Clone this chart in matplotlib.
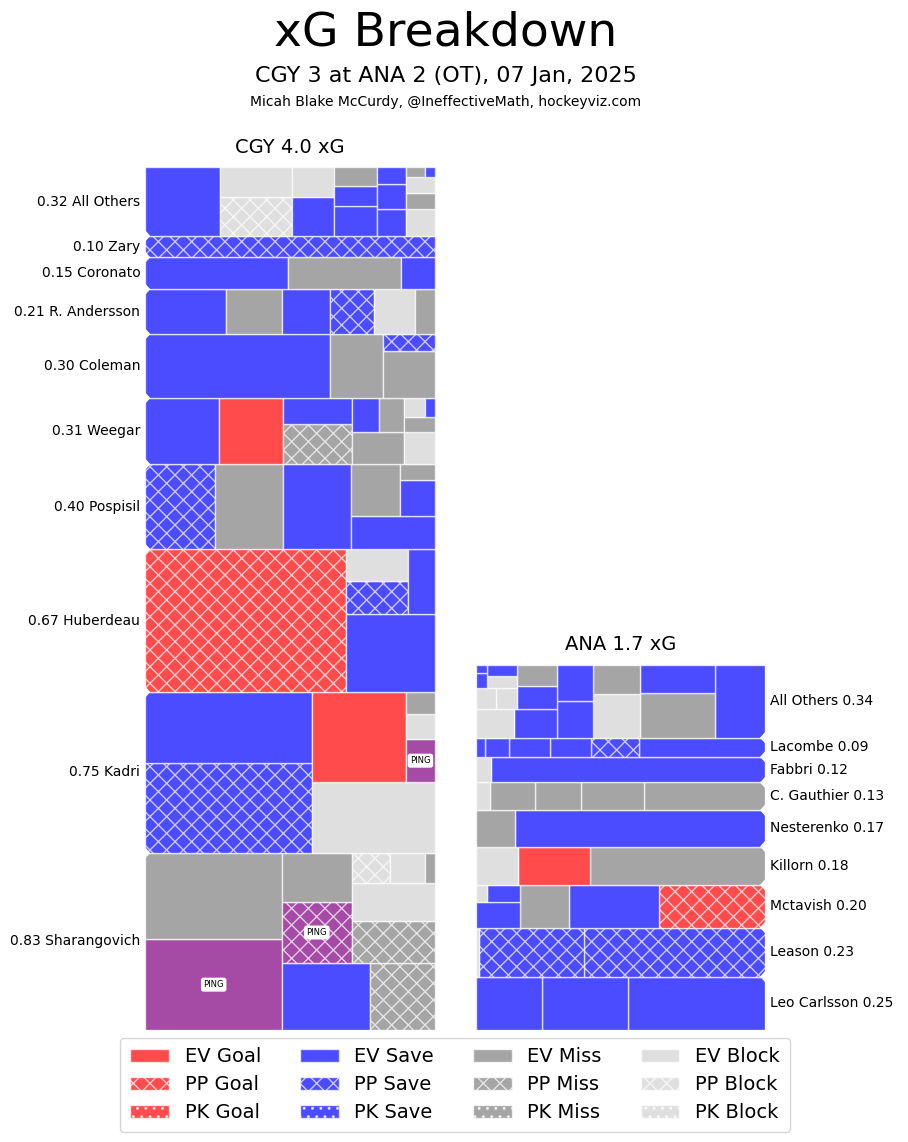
import matplotlib
matplotlib.use('Agg')
import matplotlib.pyplot as plt
from matplotlib.patches import Rectangle, Patch, Polygon

# shot xG per player, (value, kind); rows listed bottom -> top
cgy_players = ['Sharangovich', 'Kadri', 'Huberdeau', 'Pospisil', 'Weegar',
               'Coleman', 'R. Andersson', 'Coronato', 'Zary', 'All Others']
cgy_shots = [
    [(0.2010, 'EV Ping'), (0.1915, 'EV Miss'), (0.0955, 'EV Save'), (0.0707, 'PP Miss'),
     (0.0682, 'PP Ping'), (0.0557, 'EV Miss'), (0.0555, 'PP Miss'), (0.0515, 'EV Block'),
     (0.0186, 'PP Block'), (0.0175, 'EV Block'), (0.0045, 'EV Miss')],
    [(0.2438, 'PP Save'), (0.1909, 'EV Save'), (0.1409, 'EV Block'), (0.1372, 'EV Goal'),
     (0.0195, 'EV Ping'), (0.0118, 'EV Block'), (0.0099, 'EV Miss')],
    [(0.4642, 'PP Goal'), (0.1118, 'EV Save'), (0.0336, 'PP Save'), (0.0319, 'EV Block'),
     (0.0281, 'EV Save')],
    [(0.0967, 'PP Save'), (0.0939, 'EV Miss'), (0.0929, 'EV Save'), (0.0446, 'EV Save'),
     (0.0418, 'EV Miss'), (0.0204, 'EV Save'), (0.0088, 'EV Miss')],
    [(0.0789, 'EV Save'), (0.0688, 'EV Goal'), (0.0451, 'PP Miss'), (0.0287, 'EV Save'),
     (0.0269, 'EV Miss'), (0.0159, 'EV Block'), (0.0148, 'EV Save'), (0.0141, 'EV Miss'),
     (0.0073, 'EV Miss'), (0.0064, 'EV Block'), (0.0029, 'EV Save')],
    [(0.1913, 'EV Save'), (0.0552, 'EV Miss'), (0.0392, 'EV Miss'), (0.0143, 'PP Save')],
    [(0.0585, 'EV Save'), (0.0404, 'EV Miss'), (0.0354, 'EV Save'), (0.0314, 'PP Save'),
     (0.0304, 'EV Block'), (0.0139, 'EV Miss')],
    [(0.0740, 'EV Save'), (0.0587, 'EV Miss'), (0.0173, 'EV Save')],
    [(0.1000, 'PP Save')],
    [(0.0830, 'EV Save'), (0.0449, 'PP Block'), (0.0348, 'EV Block'), (0.0267, 'EV Save'),
     (0.0209, 'EV Block'), (0.0207, 'EV Save'), (0.0139, 'EV Save'), (0.0130, 'EV Miss'),
     (0.0126, 'EV Save'), (0.0122, 'EV Block'), (0.0121, 'EV Save'), (0.0077, 'EV Save'),
     (0.0075, 'EV Miss'), (0.0074, 'EV Block'), (0.0029, 'EV Miss'), (0.0014, 'EV Save')],
]

ana_players = ['Leo Carlsson', 'Leason', 'Mctavish', 'Killorn', 'Nesterenko',
               'C. Gauthier', 'Fabbri', 'Lacombe', 'All Others']
ana_shots = [
    [(0.1184, 'EV Save'), (0.0745, 'EV Save'), (0.0572, 'EV Save')],
    [(0.1440, 'PP Save'), (0.0837, 'PP Save'), (0.0024, 'EV Block')],
    [(0.0732, 'PP Goal'), (0.0623, 'EV Save'), (0.0342, 'EV Miss'), (0.0181, 'EV Save'),
     (0.0091, 'EV Save'), (0.0031, 'EV Block')],
    [(0.1087, 'EV Miss'), (0.0449, 'EV Goal'), (0.0264, 'EV Block')],
    [(0.1470, 'EV Save'), (0.0230, 'EV Miss')],
    [(0.0544, 'EV Miss'), (0.0284, 'EV Miss'), (0.0207, 'EV Miss'), (0.0205, 'EV Miss'),
     (0.0062, 'EV Block')],
    [(0.1136, 'EV Save'), (0.0064, 'EV Block')],
    [(0.0392, 'EV Save'), (0.0150, 'PP Save'), (0.0128, 'EV Save'), (0.0127, 'EV Save'),
     (0.0075, 'EV Save'), (0.0028, 'EV Save')],
    [(0.0590, 'EV Save'), (0.0543, 'EV Miss'), (0.0340, 'EV Save'), (0.0338, 'EV Block'),
     (0.0220, 'EV Miss'), (0.0214, 'EV Save'), (0.0205, 'EV Save'), (0.0203, 'EV Save'),
     (0.0179, 'EV Block'), (0.0150, 'EV Save'), (0.0139, 'EV Miss'), (0.0072, 'EV Block'),
     (0.0069, 'EV Block'), (0.0055, 'EV Block'), (0.0054, 'EV Save'), (0.0027, 'EV Save'),
     (0.0014, 'EV Save')],
]

results = ['Goal', 'Save', 'Miss', 'Block']
strengths = ['EV', 'PP', 'PK']
colors = {'Goal': '#ff4b4b', 'Save': '#4b4bff', 'Miss': '#a5a5a5',
          'Block': '#dfdfdf', 'Ping': '#a54ba5'}
hatches = {'EV': '', 'PP': 'xx', 'PK': '..'}
edge = (1, 1, 1, 0.7)


# squarify (same as the squarify package)
def layoutrow(sizes, x, y, dx, dy):
    h = sum(sizes) / dx
    out = []
    for s in sizes:
        out.append((x, y, s / h, h))
        x += s / h
    return out


def layoutcol(sizes, x, y, dx, dy):
    w = sum(sizes) / dy
    out = []
    for s in sizes:
        out.append((x, y, w, s / w))
        y += s / w
    return out


def layout(sizes, x, y, dx, dy):
    return layoutcol(sizes, x, y, dx, dy) if dx >= dy else layoutrow(sizes, x, y, dx, dy)


def leftover(sizes, x, y, dx, dy):
    if dx >= dy:
        w = sum(sizes) / dy
        return x + w, y, dx - w, dy
    h = sum(sizes) / dx
    return x, y + h, dx, dy - h


def worst(sizes, x, y, dx, dy):
    return max(max(r[2] / r[3], r[3] / r[2]) for r in layout(sizes, x, y, dx, dy))


def squarify(sizes, x, y, dx, dy):
    if len(sizes) == 0:
        return []
    if len(sizes) == 1:
        return layout(sizes, x, y, dx, dy)
    i = 1
    while i < len(sizes) and worst(sizes[:i], x, y, dx, dy) >= worst(sizes[:i + 1], x, y, dx, dy):
        i += 1
    lx, ly, ldx, ldy = leftover(sizes[:i], x, y, dx, dy)
    return layout(sizes[:i], x, y, dx, dy) + squarify(sizes[i:], lx, ly, ldx, ldy)


fig = plt.figure(figsize=(9.08, 11.42), dpi=100)
cgy_total = sum(sum(v for v, k in p) for p in cgy_shots)
ana_total = sum(sum(v for v, k in p) for p in ana_shots)
gap = 0.1425
ax = fig.add_axes([145.3 / 908, 112 / 1142, 619.7 / 908, 862.7 / 1142])
ax.set_xlim(0, 2 + gap)
ax.set_ylim(0, cgy_total)
ax.axis('off')

px_y = cgy_total / 862.7
px_x = (2 + gap) / 619.7


def draw_team(players, shots, x0, mirror, name, total):
    y0 = 0
    for pname, pshots in zip(players, shots):
        ordered = sorted(pshots, key=lambda s: -s[0])
        vals = [s[0] for s in ordered]
        tot = sum(vals)
        rects = squarify(vals, 0, y0, 1, tot)
        for (x, y, w, h), (v, kind) in zip(rects, ordered):
            st, res = kind.split()
            xx = x0 + (1 - x - w if mirror else x)
            ax.add_patch(Rectangle((xx, y), w, h, facecolor=colors[res],
                                   hatch=hatches[st], edgecolor=edge, lw=1))
            if res == 'Ping':
                ax.text(xx + w / 2, y + h / 2, 'PING', fontsize=6, ha='center',
                        va='center', bbox=dict(boxstyle='round,pad=0.3', fc='white', ec='none'))
        if mirror:
            ax.text(x0 + 1 + 5 * px_x, y0 + tot / 2, f'{pname} {tot:.2f}',
                    ha='left', va='center', fontsize=10)
        else:
            ax.text(x0 - 5 * px_x, y0 + tot / 2, f'{tot:.2f} {pname}',
                    ha='right', va='center', fontsize=10)
        y0 += tot
        # notch between rows on the label side
        if y0 < total - 1e-6:
            hh, d = 5.5 * px_y, 5 * px_x
            ex = x0 + 1 if mirror else x0
            sgn = -1 if mirror else 1
            ax.add_patch(Polygon([(ex - sgn * 0.01, y0 - hh), (ex, y0 - hh),
                                  (ex + sgn * d, y0), (ex, y0 + hh),
                                  (ex - sgn * 0.01, y0 + hh)],
                                 closed=True, facecolor='white', edgecolor='none', zorder=3))
    ax.text(x0 + 0.5, total + 20 * px_y, f'{name} {total:.1f} xG', ha='center',
            va='center', fontsize=14)


draw_team(cgy_players, cgy_shots, 0, False, 'CGY', cgy_total)
draw_team(ana_players, ana_shots, 1 + gap, True, 'ANA', ana_total)

fig.text(0.4906, 1 - 33 / 1142, 'xG Breakdown', ha='center', va='center', fontsize=34)
fig.text(0.4906, 1 - 76 / 1142, 'CGY 3 at ANA 2 (OT), 07 Jan, 2025', ha='center',
         va='center', fontsize=16)
fig.text(0.4906, 1 - 102 / 1142, 'Micah Blake McCurdy, @IneffectiveMath, hockeyviz.com',
         ha='center', va='center', fontsize=10)

handles = []
for res in results:
    for st in strengths:
        handles.append(Patch(facecolor=colors[res], hatch=hatches[st], edgecolor=edge,
                             label=f'{st} {res}'))
fig.legend(handles=handles, ncol=4, loc='upper center', bbox_to_anchor=(455 / 908, 1 - 1028 / 1142),
           fontsize=14, frameon=True, labelspacing=0.46, borderpad=0.5)

fig.savefig('out.png', dpi=100)
